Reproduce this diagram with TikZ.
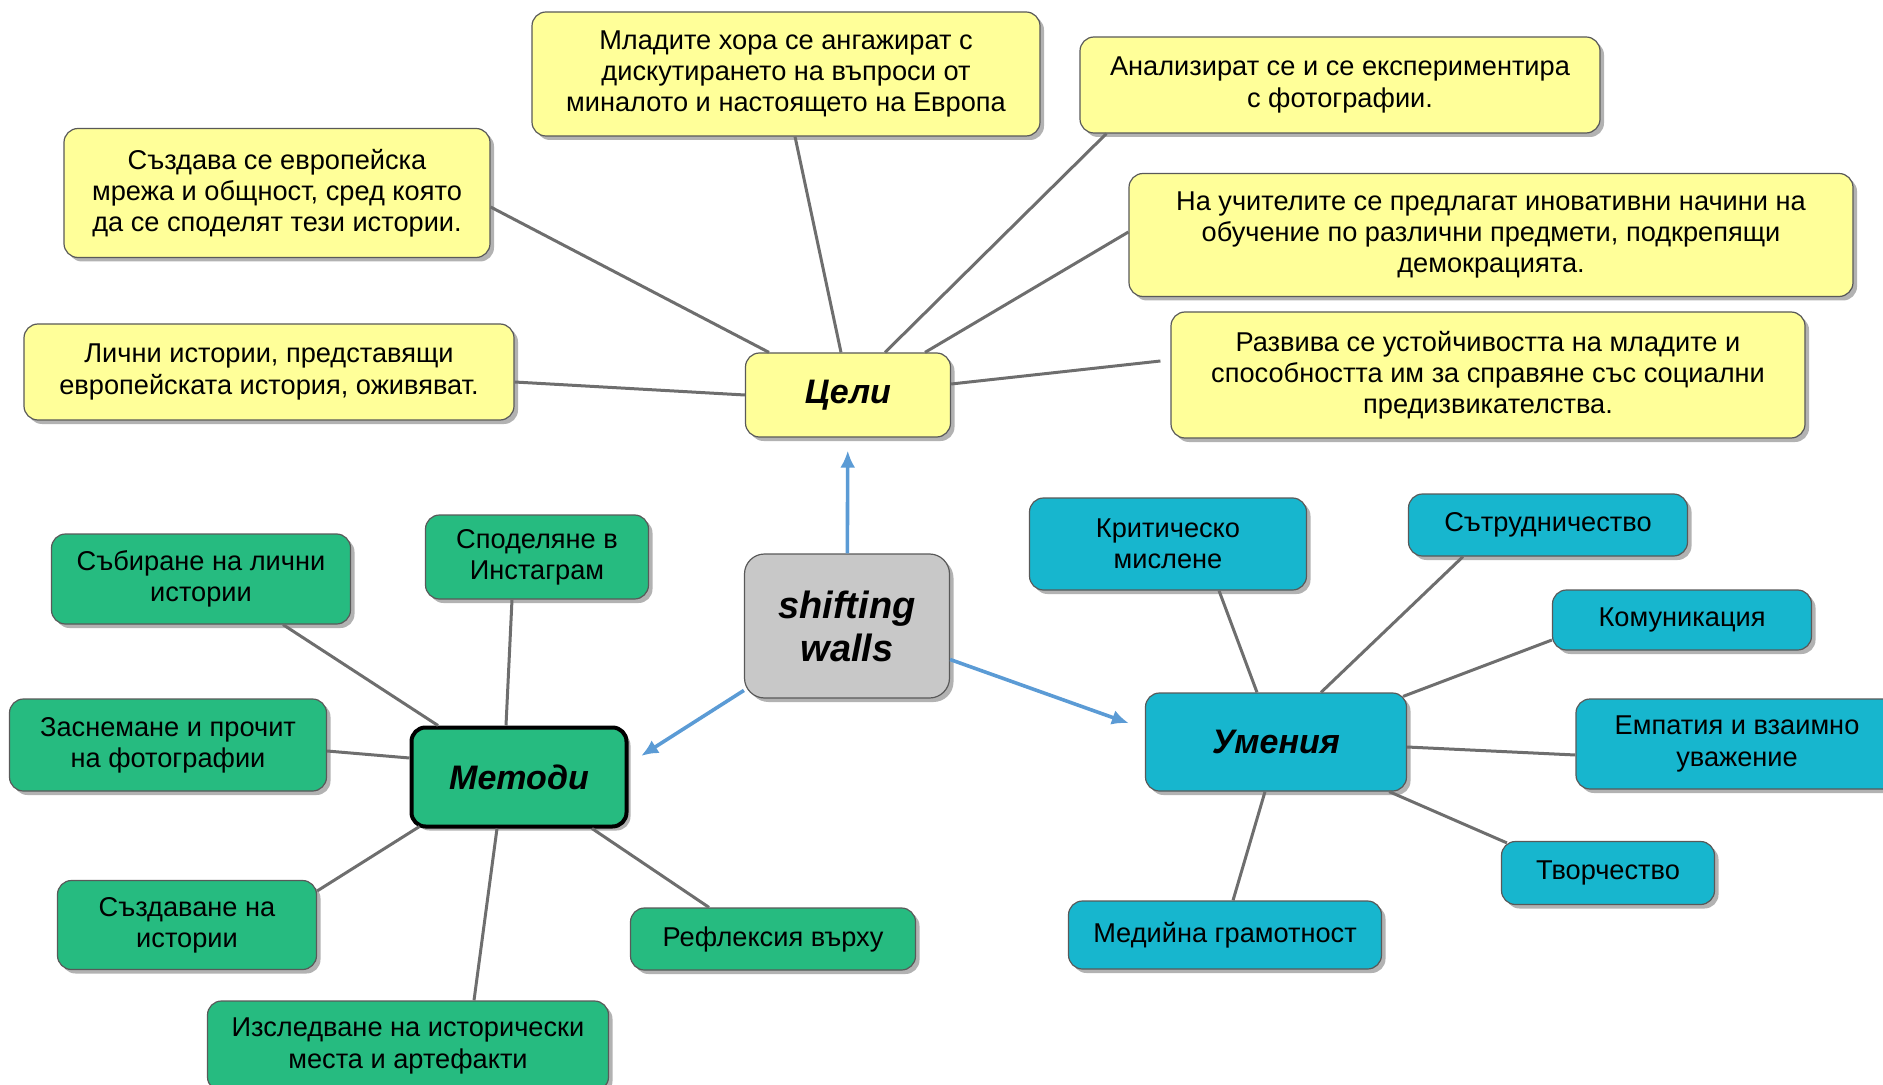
\documentclass[tikz,border=0pt]{standalone}
\usepackage{fontspec}
\setmainfont{Liberation Sans}
\usepackage{xcolor}
\usepackage{tikz}
\usetikzlibrary{shadows, arrows.meta}
\definecolor{goalyellow}{HTML}{FFFF99}
\definecolor{methodgreen}{HTML}{26BB80}
\definecolor{skillblue}{HTML}{17B6CE}
\definecolor{hubgray}{HTML}{C8C8C8}
\definecolor{linkgray}{HTML}{6E6E6E}
\definecolor{flowblue}{HTML}{5B9BD5}
\tikzstyle{box} = [rectangle, rounded corners=7pt, draw=black!65, line width=0.6pt, align=center, inner sep=2pt, font=\fontsize{13.6}{15.6}\selectfont, drop shadow={shadow xshift=2pt, shadow yshift=-2pt, opacity=0.3, fill=black}]
\tikzstyle{goal} = [box, fill=goalyellow]
\tikzstyle{method} = [box, fill=methodgreen]
\tikzstyle{skill} = [box, fill=skillblue]
\tikzstyle{topic} = [box, font=\fontsize{17}{20}\selectfont\bfseries\itshape]
\tikzstyle{link} = [draw=linkgray, line width=1.5pt]
\tikzstyle{flow} = [-{Latex[length=8.5pt,width=7.5pt]}, draw=flowblue, line width=1.8pt]

\begin{document}
\begin{tikzpicture}[x=0.5pt, y=-0.5pt]
  \useasboundingbox (0, 0) rectangle (1883, 1085);

  % Centre
  \node[topic, fill=hubgray, rounded corners=10pt, minimum width=102.5pt, minimum height=72pt, font=\fontsize{19}{21.5}\selectfont\bfseries\itshape] (hub) at (847, 626) {shifting\\walls};
  \node[topic, fill=goalyellow, minimum width=102.5pt, minimum height=42pt] (goals) at (848, 395) {Цели};
  \node[topic, fill=methodgreen, draw=black, line width=2pt, minimum width=107.5pt, minimum height=49.5pt] (methods) at (519, 777) {Методи};
  \node[topic, fill=skillblue, minimum width=130.5pt, minimum height=49pt] (skills) at (1276, 742) {Умения};

  \draw[flow, shorten >=6.5pt] (hub) -- (goals);
  \draw[flow, shorten >=7.5pt] (hub.212) -- ([yshift=6.5pt]methods.east);
  \draw[flow, shorten >=8.5pt] (hub.-18) -- ([yshift=6.5pt]skills.west);

  % Goals
  \node[goal, minimum width=254pt, minimum height=62pt] (goal_youth) at (786, 74) {Младите хора се ангажират с\\дискутирането на въпроси от\\миналото и настоящето на Европа};
  \node[goal, minimum width=260pt, minimum height=48pt] (goal_photo) at (1340, 85) {Анализират се и се експериментира\\с фотографии.};
  \node[goal, minimum width=213pt, minimum height=64.5pt] (goal_network) at (277, 193) {Създава се европейска\\мрежа и общност, сред която\\да се споделят тези истории.};
  \node[goal, minimum width=362pt, minimum height=61.5pt] (goal_teachers) at (1491, 235) {На учителите се предлагат иновативни начини на\\обучение по различни предмети, подкрепящи\\демокрацията.};
  \node[goal, minimum width=245pt, minimum height=48pt] (goal_stories) at (269, 372) {Лични истории, представящи\\европейската история, оживяват.};
  \node[goal, minimum width=317pt, minimum height=63pt] (goal_resilience) at (1488, 375) {Развива се устойчивостта на младите и\\способността им за справяне със социални\\предизвикателства.};

  \draw[link] ([xshift=-39.5pt]goals.north) -- ([yshift=-7pt]goal_network.east);
  \draw[link] ([xshift=-3.5pt]goals.north) -- ([xshift=4.5pt]goal_youth.south);
  \draw[link] ([xshift=18.5pt]goals.north) -- ([xshift=13.5pt]goal_photo.south west);
  \draw[link] ([xshift=38.5pt]goals.north) -- ([yshift=1.5pt]goal_teachers.west);
  \draw[link] (goals.west) -- ([yshift=-5pt]goal_stories.east);
  \draw[link] ([yshift=5.5pt]goals.east) -- ([xshift=-5pt, yshift=7pt]goal_resilience.west);

  % Methods
  \node[method, minimum width=149.5pt, minimum height=45pt] (method_collect) at (201, 579) {Събиране на лични\\истории};
  \node[method, minimum width=111.5pt, minimum height=42pt] (method_insta) at (537, 557) {Споделяне в\\Инстаграм};
  \node[method, minimum width=158.5pt, minimum height=46pt] (method_photo) at (168, 745) {Заснемане и прочит\\на фотографии};
  \node[method, minimum width=129.5pt, minimum height=44.5pt] (method_create) at (187, 925) {Създаване на\\истории};
  \node[method, minimum width=200.5pt, minimum height=45pt] (method_explore) at (408, 1046) {Изследване на исторически\\места и артефакти};
  \node[method, minimum width=142.5pt, minimum height=31pt] (method_reflect) at (773, 939) {Рефлексия върху};

  \draw[link] ([xshift=-40.5pt]methods.north) -- ([xshift=41pt]method_collect.south);
  \draw[link] ([xshift=-6.5pt]methods.north) -- ([xshift=-12.5pt]method_insta.south);
  \draw[link] ([yshift=9.5pt]methods.west) -- ([yshift=-3pt]method_photo.east);
  \draw[link] ([shift={(5pt,1pt)}]methods.south west) -- ([yshift=17pt]method_create.east);
  \draw[link] ([xshift=-11pt]methods.south) -- ([xshift=33pt]method_explore.north);
  \draw[link] ([xshift=36.5pt]methods.south) -- ([xshift=-32pt]method_reflect.north);

  % Skills
  \node[skill, minimum width=138.5pt, minimum height=46pt] (skill_critical) at (1168, 544) {Критическо\\мислене};
  \node[skill, minimum width=139.5pt, minimum height=31pt] (skill_collab) at (1548, 525) {Сътрудничество};
  \node[skill, minimum width=129.5pt, minimum height=30pt] (skill_comm) at (1682, 620) {Комуникация};
  \node[skill, minimum width=161pt, minimum height=45pt] (skill_empathy) at (1737, 744) {Емпатия и взаимно\\уважение};
  \node[skill, minimum width=106.5pt, minimum height=31.5pt] (skill_creative) at (1608, 873) {Творчество};
  \node[skill, minimum width=156.5pt, minimum height=34pt] (skill_media) at (1225, 935) {Медийна грамотност};

  \draw[link] ([xshift=-9.5pt]skills.north) -- ([xshift=25.5pt]skill_critical.south);
  \draw[link] ([xshift=22.5pt]skills.north) -- ([xshift=-42.5pt]skill_collab.south);
  \draw[link] ([shift={(-2pt,-2pt)}]skills.north east) -- ([yshift=-10pt]skill_comm.west);
  \draw[link] ([yshift=-2.5pt]skills.east) -- ([yshift=-5.5pt]skill_empathy.west);
  \draw[link] ([xshift=-9pt]skills.south east) -- ([shift={(3pt,-1pt)}]skill_creative.north west);
  \draw[link] ([xshift=-5.5pt]skills.south) -- ([xshift=4pt]skill_media.north);

\end{tikzpicture}
\end{document}
